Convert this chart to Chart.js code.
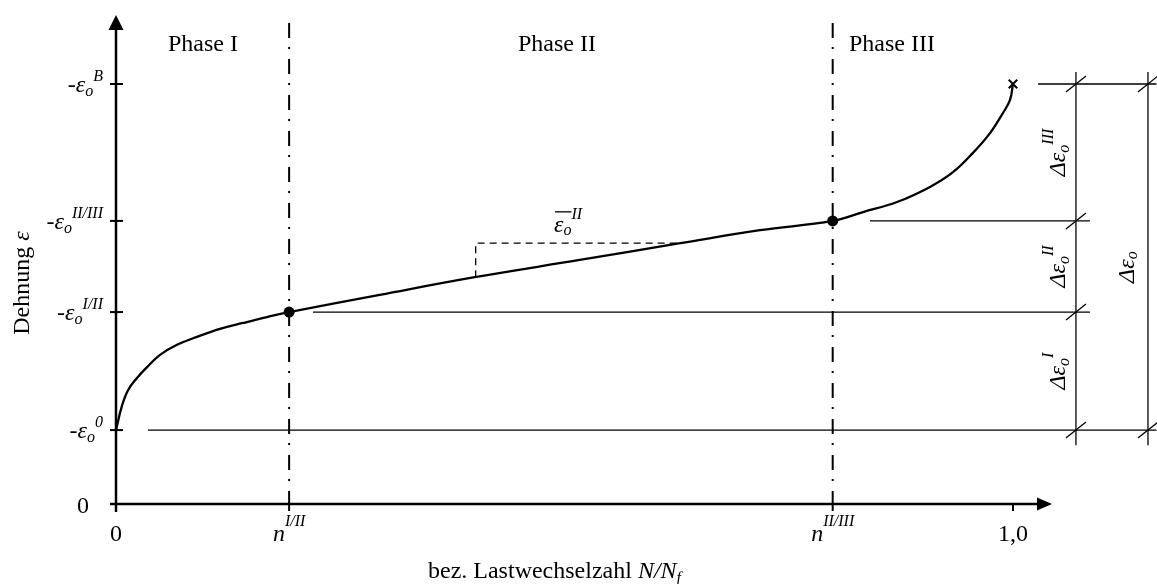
<!DOCTYPE html>
<html><head><meta charset="utf-8">
<script src="https://cdn.jsdelivr.net/npm/chart.js@4.4.1/dist/chart.umd.min.js"></script>
<style>html,body{margin:0;padding:0;background:#fff}canvas{display:block}</style>
</head><body>
<canvas id="c" width="1157" height="584"></canvas>
<script>
// ---- data (relative cycle number N/Nf vs. strain, schematic) ----
const strainX = [0, 0.0064, 0.0134, 0.0234, 0.0346, 0.0491, 0.0680, 0.0903, 0.1159, 0.1416, 0.1683, 0.193,
                 0.294, 0.400, 0.517, 0.629, 0.718, 0.799,
                 0.8328, 0.8707, 0.9075, 0.9331, 0.9554, 0.9744, 0.9888, 0.9967, 1.0];
const strainY = [0.176, 0.232, 0.271, 0.300, 0.326, 0.355, 0.379, 0.398, 0.417, 0.431, 0.445, 0.457,
                 0.498, 0.540, 0.581, 0.621, 0.652, 0.674,
                 0.695, 0.719, 0.755, 0.790, 0.836, 0.883, 0.931, 0.962, 1.0];
const transitionX = [0.193, 0.799];
const transitionY = [0.457, 0.674];
const failureX = [1.0];
const failureY = [1.0];
const xTickValues = [0, 0.193, 0.799, 1.0];
const xTickLabels = [[['0','r']], [['n','i'],['I/II','sup']], [['n','i'],['II/III','sup']], [['1,0','r']]];
const yTickValues = [0, 0.176, 0.457, 0.674, 1.0];
const yTickLabels = [
  [['0','r']],
  [['-','r'],['ε','i'],['o','sub'],['0','sup']],
  [['-','r'],['ε','i'],['o','sub'],['I/II','sup']],
  [['-','r'],['ε','i'],['o','sub'],['II/III','sup']],
  [['-','r'],['ε','i'],['o','sub'],['B','sup']]
];
const phaseNames = ['Phase I', 'Phase II', 'Phase III'];
const dimLabels = [
  [['Δε','i'],['o','sub'],['I','sup']],
  [['Δε','i'],['o','sub'],['II','sup']],
  [['Δε','i'],['o','sub'],['III','sup']]
];
const dimTotalLabel = [['Δε','i'],['o','sub']];
const slopeLabel = [['ε','i'],['o','sub'],['II','sup']];
const xTitle = [['bez. Lastwechselzahl ','r'],['N/N','i'],['f','sub']];
const yTitle = [['Dehnung ','r'],['ε','i']];

// ---- drawing helpers ----
const FONT = '"Liberation Serif","Times New Roman",serif';
function partFont(k){
  if (k === 'r') return '24px ' + FONT;
  if (k === 'i') return 'italic 24px ' + FONT;
  return 'italic 16px ' + FONT;
}
function richWidth(ctx, parts){
  let w = 0;
  for (const p of parts){ ctx.font = partFont(p[1]); w += ctx.measureText(p[0]).width; }
  return w;
}
function drawRich(ctx, parts, x, y, align, supDy, subDy){
  const w = richWidth(ctx, parts);
  let cx = align === 'center' ? x - w/2 : (align === 'right' ? x - w : x);
  const pos = [];
  ctx.textAlign = 'left'; ctx.textBaseline = 'alphabetic';
  for (const p of parts){
    ctx.font = partFont(p[1]);
    const dy = p[1] === 'sup' ? supDy : (p[1] === 'sub' ? subDy : 0);
    ctx.fillText(p[0], cx, y + dy);
    const pw = ctx.measureText(p[0]).width;
    pos.push([cx, pw]);
    cx += pw;
  }
  return pos;
}
function seg(ctx, x0, y0, x1, y1){ ctx.beginPath(); ctx.moveTo(x0, y0); ctx.lineTo(x1, y1); ctx.stroke(); }

const schematic = {
  id: 'schematic',
  beforeDatasetsDraw(chart){
    const ctx = chart.ctx, xs = chart.scales.x, ys = chart.scales.y;
    const X = v => xs.getPixelForValue(v), Y = v => ys.getPixelForValue(v);
    ctx.save();
    ctx.strokeStyle = '#000'; ctx.fillStyle = '#000';
    // phase boundaries (dash-dot)
    ctx.lineWidth = 2; ctx.setLineDash([15, 9, 2, 10]);
    transitionX.forEach(v => seg(ctx, X(v), Y(1.145), X(v), Y(0)));
    ctx.setLineDash([]);
    // horizontal reference lines
    ctx.lineWidth = 1.3;
    const eps0 = yTickValues[1], eps12 = yTickValues[2], eps23 = yTickValues[3], epsB = yTickValues[4];
    seg(ctx, X(0.0357), Y(eps0), X(1.16), Y(eps0));
    seg(ctx, X(0.2196), Y(eps12), X(1.0858), Y(eps12));
    seg(ctx, X(0.8406), Y(eps23), X(1.0858), Y(eps23));
    seg(ctx, X(1.028), Y(epsB), X(1.16), Y(epsB));
    // dimension lines
    const d1 = 1.0702, d2 = 1.1505;
    seg(ctx, X(d1), Y(1.0286), X(d1), Y(0.140));
    seg(ctx, X(d2), Y(1.0286), X(d2), Y(0.140));
    const slash = (px, py) => seg(ctx, px - 10, py + 8, px + 10, py - 8);
    [eps0, eps12, eps23, epsB].forEach(l => slash(X(d1), Y(l)));
    [eps0, epsB].forEach(l => slash(X(d2), Y(l)));
    // slope triangle
    ctx.setLineDash([7, 5]);
    ctx.beginPath();
    ctx.moveTo(X(0.401), Y(0.540)); ctx.lineTo(X(0.401), Y(0.621)); ctx.lineTo(X(0.625), Y(0.621));
    ctx.stroke();
    ctx.setLineDash([]);
    ctx.restore();
  },
  afterDatasetsDraw(chart){
    const ctx = chart.ctx, xs = chart.scales.x, ys = chart.scales.y;
    const X = v => xs.getPixelForValue(v), Y = v => ys.getPixelForValue(v);
    ctx.save();
    ctx.strokeStyle = '#000'; ctx.fillStyle = '#000';
    const ox = X(0), oy = Y(0);
    // axes
    ctx.lineWidth = 2.5;
    seg(ctx, ox, oy + 8, ox, Y(1.164) + 12);
    seg(ctx, ox - 6, oy, X(1.0435) - 12, oy);
    // arrows
    let ty = Y(1.164);
    ctx.beginPath(); ctx.moveTo(ox, ty); ctx.lineTo(ox - 7.5, ty + 15); ctx.lineTo(ox + 7.5, ty + 15); ctx.closePath(); ctx.fill();
    let tx = X(1.0435);
    ctx.beginPath(); ctx.moveTo(tx, oy); ctx.lineTo(tx - 15, oy - 6.5); ctx.lineTo(tx - 15, oy + 6.5); ctx.closePath(); ctx.fill();
    // ticks
    ctx.lineWidth = 2;
    xTickValues.forEach(v => { if (v > 0) seg(ctx, X(v), oy, X(v), oy + 7); });
    yTickValues.forEach(v => { if (v > 0) seg(ctx, ox - 6, Y(v), ox + 7, Y(v)); });
    // tick labels
    xTickValues.forEach((v, i) => drawRich(ctx, xTickLabels[i], X(v), oy + 37, 'center', -15, 5));
    yTickValues.forEach((v, i) => {
      if (v === 0) drawRich(ctx, yTickLabels[i], ox - 27, Y(v) + 9, 'right', -11, 4);
      else drawRich(ctx, yTickLabels[i], ox - 13, Y(v) + 8, 'right', -11, 4);
    });
    // axis titles
    drawRich(ctx, xTitle, 428, oy + 74, 'left', -11, 5);
    ctx.save(); ctx.translate(29, 283); ctx.rotate(-Math.PI/2);
    drawRich(ctx, yTitle, 0, 0, 'center', -11, 4); ctx.restore();
    // phase names
    const phaseCenters = [0.097, 0.4916, 0.865];
    phaseNames.forEach((n, i) => drawRich(ctx, [[n, 'r']], X(phaseCenters[i]), Y(1.079), 'center', 0, 0));
    // slope label with overline
    const sp = drawRich(ctx, slopeLabel, X(0.504) , Y(0.648), 'center', -13, 3);
    ctx.lineWidth = 1.3;
    seg(ctx, sp[0][0] + 1, Y(0.648) - 20, sp[1][0] + sp[1][1], Y(0.648) - 20);
    // dimension labels (rotated)
    const lv = [yTickValues[1], yTickValues[2], yTickValues[3], yTickValues[4]];
    dimLabels.forEach((lab, i) => {
      const cy = (Y(lv[i]) + Y(lv[i+1])) / 2;
      ctx.save(); ctx.translate(1065, cy); ctx.rotate(-Math.PI/2);
      drawRich(ctx, lab, 0, 0, 'center', -12, 4); ctx.restore();
    });
    ctx.save(); ctx.translate(1134, Y(0.564)); ctx.rotate(-Math.PI/2);
    drawRich(ctx, dimTotalLabel, 0, 0, 'center', -12, 3); ctx.restore();
    ctx.restore();
  }
};

new Chart(document.getElementById('c'), {
  type: 'scatter',
  data: {
    datasets: [
      { data: strainX.map((v, i) => ({x: v, y: strainY[i]})), showLine: true, borderColor: '#000',
        borderWidth: 2.3, pointRadius: 0, tension: 0.4, borderJoinStyle: 'round', borderCapStyle: 'round', clip: false },
      { data: transitionX.map((v, i) => ({x: v, y: transitionY[i]})), showLine: false,
        pointRadius: 5.5, pointStyle: 'circle', backgroundColor: '#000', borderColor: '#000', borderWidth: 0, clip: false },
      { data: failureX.map((v, i) => ({x: v, y: failureY[i]})), showLine: false,
        pointRadius: 6, pointStyle: 'crossRot', borderColor: '#000', borderWidth: 2, clip: false }
    ]
  },
  options: {
    responsive: false, animation: false, devicePixelRatio: 1,
    layout: { autoPadding: false, padding: { left: 116, right: 0.5, top: 0, bottom: 80 } },
    plugins: { legend: { display: false }, tooltip: { enabled: false } },
    scales: {
      x: { type: 'linear', min: 0, max: 1.16, display: false },
      y: { type: 'linear', min: 0, max: 1.2, display: false }
    }
  },
  plugins: [schematic]
});
</script>
</body></html>
